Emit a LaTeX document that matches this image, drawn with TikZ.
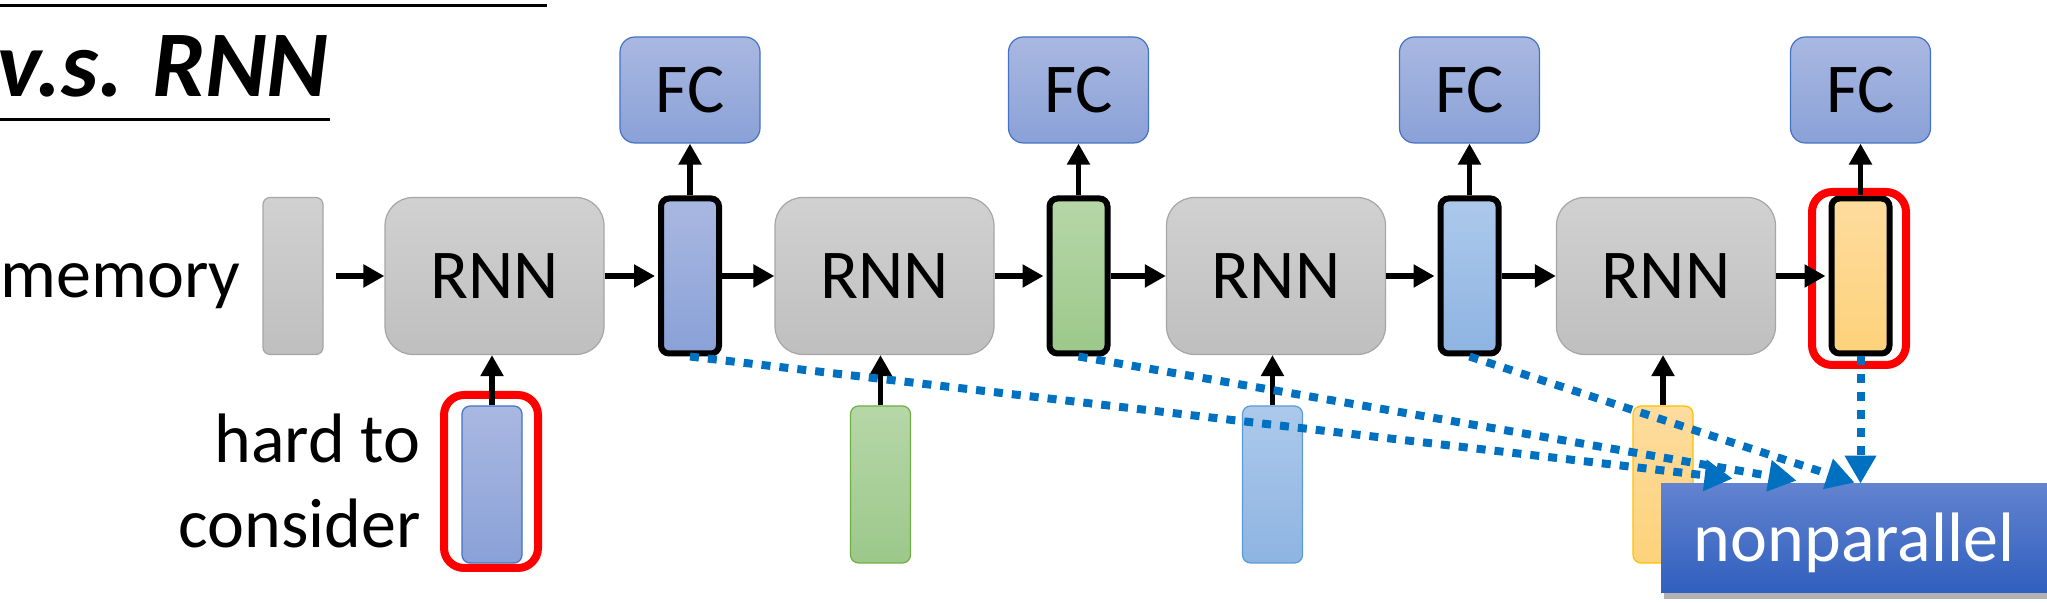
\documentclass[tikz,border=0pt]{standalone}
\usepackage{fontspec}
\setmainfont{Carlito}
\usetikzlibrary{arrows.meta, positioning, calc, shadows}
\definecolor{grayTop}{HTML}{D1D1D1}
\definecolor{grayBot}{HTML}{BFBFBF}
\definecolor{grayLine}{HTML}{A6A6A6}
\definecolor{blTop}{HTML}{A9B8E1}
\definecolor{blBot}{HTML}{8AA1D7}
\definecolor{blLine}{HTML}{4472C4}
\definecolor{grTop}{HTML}{B6D7A8}
\definecolor{grBot}{HTML}{9CC88A}
\definecolor{grLine}{HTML}{70AD47}
\definecolor{lbTop}{HTML}{ACC9EB}
\definecolor{lbBot}{HTML}{8EB4E2}
\definecolor{lbLine}{HTML}{5B9BD5}
\definecolor{orTop}{HTML}{FEDC9E}
\definecolor{orBot}{HTML}{FDD27A}
\definecolor{orLine}{HTML}{FFC000}
\definecolor{npTop}{HTML}{6283CF}
\definecolor{npBot}{HTML}{305FBE}
\definecolor{dotblue}{HTML}{0070C0}
\definecolor{ringred}{HTML}{FF0000}

\begin{document}
\begin{tikzpicture}[x=0.5pt, y=-0.5pt,
    txt/.style={font=\fontsize{35}{42}\selectfont, inner sep=0},
    memcell/.style={draw=grayLine, line width=0.6pt, top color=grayTop, bottom color=grayBot,
        rounded corners=3.5pt, minimum width=30pt, minimum height=78.5pt, inner sep=0},
    rnnbox/.style={memcell, rounded corners=14pt, minimum width=109.5pt, font=\fontsize{35}{42}\selectfont},
    hidbox/.style={draw=black, line width=3pt, rounded corners=4pt, minimum width=29pt, minimum height=77.5pt, inner sep=0},
    inbox/.style={line width=0.6pt, rounded corners=4pt, minimum width=30pt, minimum height=78.5pt, inner sep=0},
    fcbox/.style={draw=blLine, line width=0.6pt, top color=blTop, bottom color=blBot, rounded corners=7.5pt,
        minimum width=70pt, minimum height=53pt, inner sep=0, font=\fontsize{35}{42}\selectfont},
    redring/.style={draw=ringred, line width=4pt, rounded corners=10pt, minimum width=47pt, minimum height=86.5pt, inner sep=0},
    blueshade/.style={top color=blTop, bottom color=blBot},
    greenshade/.style={top color=grTop, bottom color=grBot},
    lightshade/.style={top color=lbTop, bottom color=lbBot},
    orangeshade/.style={top color=orTop, bottom color=orBot},
    arr/.style={line width=2.6pt, -{Triangle[length=10.5pt, width=11pt]}},
    dotarr/.style={draw=dotblue, line width=4pt, dash pattern=on 4.5pt off 4.5pt, -{Triangle[length=14pt, width=15pt]}},
    npbox/.style={top color=npTop, bottom color=npBot, text=white, minimum width=193pt, minimum height=54.5pt,
        inner sep=0, text height=30pt, text depth=6.5pt, font=\fontsize{35}{42}\selectfont,
        drop shadow={shadow xshift=1.5pt, shadow yshift=-3pt, fill=black, opacity=0.3}}]
\useasboundingbox (0,0) rectangle (2047,603);
\clip (0,0) rectangle (2047,603);

% title
\draw[line width=1.5pt] (0,6) -- (547,6);
\node[font=\fontsize{47}{56}\selectfont\bfseries\itshape, inner sep=0, anchor=base east] (title) at (329,97) {v.s. RNN};
\draw[line width=1.5pt] (0,120) -- (330,120);

% memory row
\node[memcell] (mem) at (293,276) {};
\node[rnnbox] (rnn1) at (494.5,276) {RNN};
\node[rnnbox] (rnn2) at (884.5,276) {RNN};
\node[rnnbox] (rnn3) at (1276,276) {RNN};
\node[rnnbox] (rnn4) at (1666,276) {RNN};
\node[hidbox, blueshade]   (h1) at (690,276) {};
\node[hidbox, greenshade]  (h2) at (1078.5,276) {};
\node[hidbox, lightshade]  (h3) at (1469.5,276) {};
\node[hidbox, orangeshade] (h4) at (1860.5,276) {};

% FC layers
\node[fcbox] (fc1) at (690,90) {FC};
\node[fcbox] (fc2) at (1078.5,90) {FC};
\node[fcbox] (fc3) at (1469.5,90) {FC};
\node[fcbox] (fc4) at (1860.5,90) {FC};

% inputs
\node[inbox, blueshade, draw=blLine]     (in1) at (492,484.5) {};
\node[inbox, greenshade, draw=grLine]    (in2) at (880.5,484.5) {};
\node[inbox, lightshade, draw=lbLine]    (in3) at (1272.5,484.5) {};
\node[inbox, orangeshade, draw=orLine]   (in4) at (1663,484.5) {};

\node[redring] (ring1) at (491,481.5) {};
\node[redring] (ring2) at (1859,278.5) {};

% labels
\node[txt, anchor=base east] (memlbl) at (241,298) {memory};
\node[txt, anchor=base east] (hard) at (421,463) {hard to};
\node[txt, anchor=base east] (cons) at (421,548) {consider};

% recurrence
\draw[arr] ([xshift=6pt]mem.east) -- (rnn1.west);
\draw[arr, shorten >=1.5pt] (rnn1) -- (h1);
\draw[arr] (h1) -- (rnn2);
\draw[arr, shorten >=1.5pt] (rnn2) -- (h2);
\draw[arr] (h2) -- (rnn3);
\draw[arr, shorten >=1.5pt] (rnn3) -- (h3);
\draw[arr] (h3) -- (rnn4);
\draw[arr, shorten >=1.5pt] (rnn4) -- (h4);

\draw[arr] (h1) -- (fc1);
\draw[arr] (h2) -- (fc2);
\draw[arr] (h3) -- (fc3);
\draw[arr] (h4) -- (fc4);

\draw[arr] (in1.north) -- (in1.north |- rnn1.south);
\draw[arr] (in2.north) -- (in2.north |- rnn2.south);
\draw[arr] (in3.north) -- (in3.north |- rnn3.south);
\draw[arr] (in4.north) -- (in4.north |- rnn4.south);

% output box
\node[npbox] (np) at (1854,538.5) {nonparallel};
\coordinate (t1) at ($(np.north west)+(72,-5)$);
\coordinate (t2) at ($(np.north west)+(136,-3)$);
\coordinate (t3) at ($(np.north west)+(194,-1)$);

\draw[dotarr] (h1.south) -- (t1);
\draw[dotarr] (h2.south) -- (t2);
\draw[dotarr] (h3.south) -- (t3);
\draw[dotarr] (h4.south) -- (h4.south |- np.north);
\end{tikzpicture}
\end{document}
